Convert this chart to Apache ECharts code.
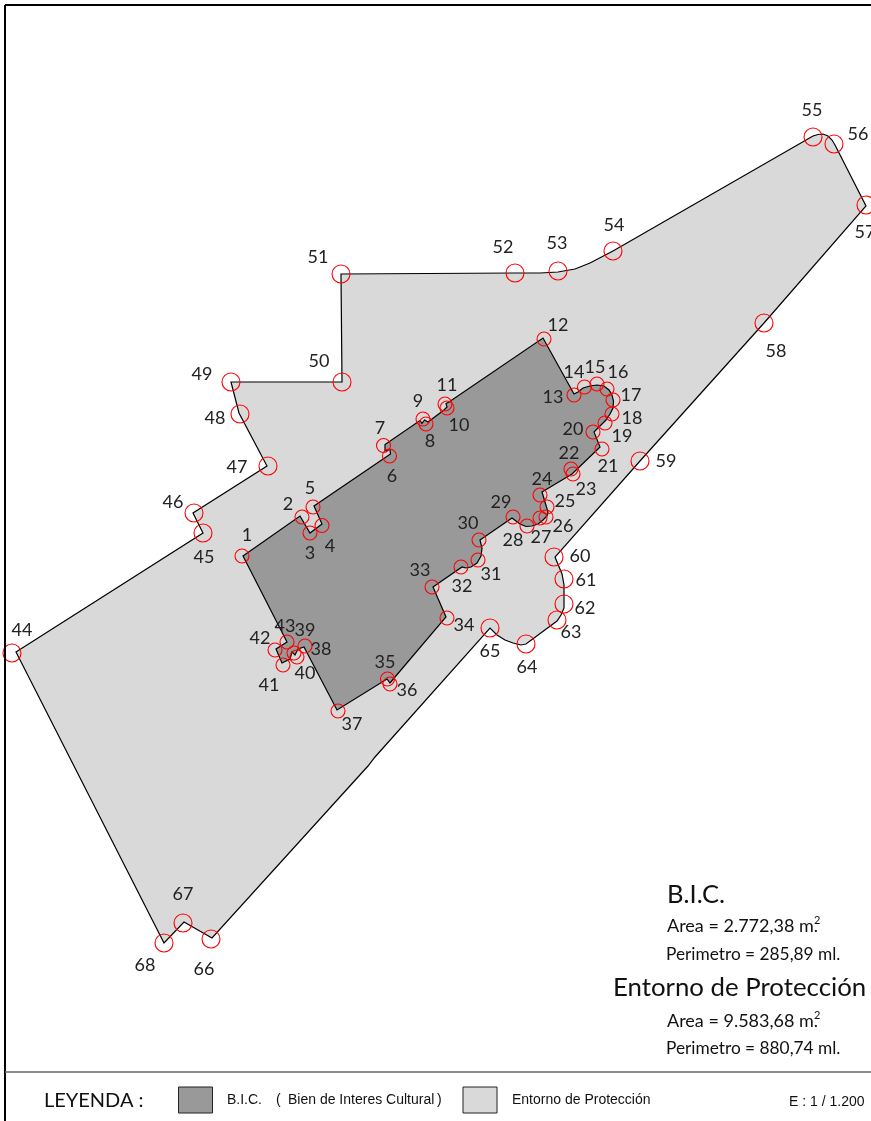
<!DOCTYPE html>
<html><head><meta charset="utf-8">
<style>html,body{margin:0;padding:0;background:#fff}#c{width:871px;height:1121px}</style>
<script src="https://cdn.jsdelivr.net/npm/echarts@6/dist/echarts.min.js"></script>
</head><body><div id="c"></div>
<script>
const entornoOutline = [[16,652],[203,533],[193,513],[267,466],[239,413],[231,382],[342,382],[341,274],[515,273],[540,273],[558,272],[575,269],[590,263],[613,251],[813,136],[818,134.5],[823,134],[828,136],[832,140],[835,145],[866,206],[764,323],[640,461],[555,557],[562,574],[564,585],[564,603],[564,608],[561,615],[557,621],[526,644],[521,645],[513,643],[505,640],[497,635],[490,628],[375,757],[368,766],[212,938],[184,922],[164,943]];
const bicOutline = [[243,556],[300,516],[310,533],[322,524],[314,506],[390.5,454],[390,449.5],[385,451],[385,444.5],[420,420.5],[422,423.5],[424.5,420],[428,422],[444,410],[447,407],[446,403.5],[449,402],[543,338],[574,394],[578,392],[583,388],[590,386],[597,385],[604,386],[609,390],[612,395],[613.5,401],[613,408],[610,414],[606,420],[600,426],[594,432],[600,447],[572,474],[542,492],[545,502],[548,512],[547,516],[543,520],[538,524],[532,526],[526,526.5],[520,524],[512,518],[480,540],[482,548],[481,556],[477,563],[471,567],[466,568],[462,567],[433,587],[446,617],[395,677],[390,683],[387,679],[337,710],[304,647],[298,649],[295,655],[292,652],[290,659],[282,663],[276,649],[287,642]];
const bicIds = ['1','2','3','4','5','6','7','8','9','10','11','12','13','14','15','16','17','18','19','20','21','22','23','24','25','26','27','28','29','30','31','32','33','34','35','36','37','38','39','40','41','42','43'];
const bicMarks = [[242,556],[302,517],[310,533],[322,525.5],[313,507],[389.5,456],[383.5,445.5],[426,424],[423,419],[447,408],[445,404],[544,339],[574,395],[584.5,387],[597,384],[607,389],[613,400],[612,414],[605,423],[593,432],[602,449],[571,469],[573,474],[540,495],[547,507],[546,517],[540,518],[527,526],[513,517],[479,540],[478,560],[461,567],[432,587],[447,618],[387.5,679],[390,684],[338,711],[305,646],[294,653],[297,657],[283,665],[275,650],[287,642]];
const bicLabels = [[247,535],[288,504],[310,553],[330,546],[310,488],[392,476],[380,428],[430,441],[418,401],[459,425],[447,385],[558,325],[553,397],[574,372],[595,367],[618,372],[631,395],[632,418],[622,436],[573,429],[608,466],[569,453],[586,489],[542,479],[565,501],[563,526],[541,537],[513,540],[501,502],[468,523],[491,574],[462,586],[420,570],[464,625],[385,662],[407,690],[352,724],[321,649],[305,630],[305,673],[269,685],[260,638],[285,626]];
const entornoIds = ['44','45','46','47','48','49','50','51','52','53','54','55','56','57','58','59','60','61','62','63','64','65','66','67','68'];
const entornoMarks = [[12,653],[203,533],[194,513],[268,466],[240,414],[231,382],[342,382],[341,274],[515,273],[558,271],[613,251],[813,137],[834,144],[866,205],[764,323],[640,461],[554,557],[564,579],[564,604],[557,620],[526,644],[490,628],[211,939],[183,923],[164,943]];
const entornoLabels = [[22,630],[204,557],[173,502],[237,467],[215,418],[202,374],[319,361],[318,257],[503,247],[557,243],[614,225],[812,110],[858,134],[865,232],[776,351],[666,461],[580,556],[586,580],[585,608],[571,632],[527,667],[490,651],[204,969],[183,894],[145,965]];

const LABEL_FONT = 'Lato, "Open Sans", sans-serif';
const polygonSeries = (pts, fill) => ({
  type: 'custom', coordinateSystem: 'cartesian2d', data: pts, clip: false, silent: true,
  encode: {x: 0, y: 1},
  renderItem: (params, api) => params.dataIndex !== 0 ? null : ({
    type: 'polygon',
    shape: {points: pts.map(p => api.coord(p))},
    style: {fill, stroke: '#000', lineWidth: 1.2}
  })
});
const markSeries = (pts, size) => ({
  type: 'scatter', data: pts, symbol: 'circle', symbolSize: size, silent: true, z: 5,
  itemStyle: {color: 'rgba(0,0,0,0)', borderColor: '#f00', borderWidth: 1.1, opacity: 1}
});
const labelSeries = (pts, ids) => ({
  type: 'custom', coordinateSystem: 'cartesian2d', data: pts, silent: true, z: 6,
  encode: {x: 0, y: 1},
  renderItem: (params, api) => {
    const c = api.coord(pts[params.dataIndex]);
    return {type: 'text', z2: 10, x: c[0], y: c[1], style: {
      text: ids[params.dataIndex], fill: '#222', font: '400 18px ' + LABEL_FONT,
      textAlign: 'center', textVerticalAlign: 'middle'}};
  }
});
const txt = (x, y, text, size, family, extra) => ({type: 'text', x, y, z: 20, style: Object.assign({
  text, fill: '#111', font: size + 'px ' + (family || LABEL_FONT), textVerticalAlign: 'middle'}, extra || {})});
const line = (x1, y1, x2, y2, color, w) => ({type: 'line', z: 20, shape: {x1, y1, x2, y2}, style: {stroke: color, lineWidth: w}});
const swatch = (x, fill) => ({type: 'rect', z: 20, shape: {x, y: 1087, width: 34, height: 26}, style: {fill, stroke: '#222', lineWidth: 1}});
const ARIAL = '"Liberation Sans", Arial, sans-serif';

const chart = echarts.init(document.getElementById('c'), null, {renderer: 'canvas'});
chart.setOption({
  animation: false,
  backgroundColor: '#fff',
  grid: {left: 0, right: 0, top: 0, bottom: 0},
  xAxis: {type: 'value', min: 0, max: 871, show: false},
  yAxis: {type: 'value', min: 0, max: 1121, inverse: true, show: false},
  series: [
    polygonSeries(entornoOutline, '#d9d9d9'),
    polygonSeries(bicOutline, '#999999'),
    markSeries(bicMarks, 14),
    markSeries(entornoMarks, 18),
    labelSeries(bicLabels, bicIds),
    labelSeries(entornoLabels, entornoIds)
  ],
  graphic: [
    line(5, 5, 871, 5, '#000', 2),
    line(5, 5, 5, 1121, '#000', 2),
    line(5, 1072, 871, 1072, '#666', 1.5),
    txt(667, 895, 'B.I.C.', 25.5),
    txt(667, 926, 'Area = 2.772,38 m.', 18),
    txt(814, 920, '2', 11),
    txt(666, 954, 'Perimetro = 285,89 ml.', 17.3),
    txt(613, 988, 'Entorno de Protección', 25.8),
    txt(667, 1021, 'Area = 9.583,68 m.', 18),
    txt(814, 1015, '2', 11),
    txt(666, 1048, 'Perimetro = 880,74 ml.', 17.3),
    txt(44, 1101, 'LEYENDA :', 20),
    swatch(178.5, '#999999'),
    txt(227, 1100, 'B.I.C.', 14, ARIAL),
    txt(276, 1100, '(', 14, ARIAL),
    txt(288, 1100, 'Bien de Interes Cultural', 14, ARIAL),
    txt(437, 1100, ')', 14, ARIAL),
    swatch(463, '#d9d9d9'),
    txt(512, 1100, 'Entorno de Protección', 14, ARIAL),
    txt(789, 1102, 'E : 1 / 1.200', 14, ARIAL)
  ]
});
</script></body></html>
